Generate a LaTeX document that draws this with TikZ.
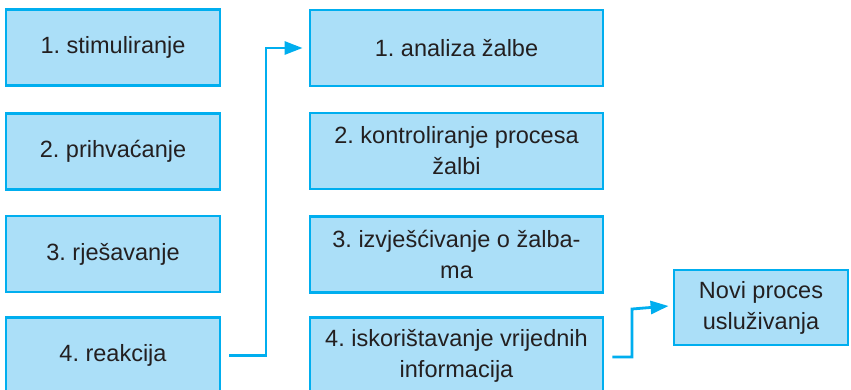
\documentclass[tikz,border=0pt]{standalone}
\usepackage{fontspec}
\setmainfont{Liberation Sans}
\usetikzlibrary{arrows.meta}
\definecolor{boxfill}{RGB}{171,223,248}
\definecolor{boxline}{RGB}{0,174,239}
\definecolor{txt}{RGB}{35,31,32}
\frenchspacing
\begin{document}
\begin{tikzpicture}[x=1pt,y=-1pt,
  box/.style={draw=boxline,fill=boxfill,line width=2.8pt,rectangle,inner sep=0pt,
    text=txt,font=\fontsize{23.5}{31}\selectfont,align=center},
  lbox/.style={box,minimum width=214pt,minimum height=76pt},
  mbox/.style={box,minimum width=293pt,minimum height=76pt},
  rbox/.style={box,minimum width=174pt,minimum height=75pt},
  conn/.style={draw=boxline,line width=2.8pt,-{Triangle[length=18pt,width=13pt]}}]
\clip (0,0) rectangle (851,389);
\node[lbox] (l1) at (113,47.5) {1. stimuliranje};
\node[lbox] (l2) at (113,151.5) {2. prihvaćanje};
\node[lbox] (l3) at (113,254) {3. rješavanje};
\node[lbox] (l4) at (113,355.5) {4. reakcija};
\node[mbox] (m1) at (456.5,48) {1. analiza žalbe};
\node[mbox] (m2) at (456.5,151) {2. kontroliranje procesa\\žalbi};
\node[mbox] (m3) at (456.5,254.5) {3. izvješćivanje o žalba-\\ma};
\node[mbox] (m4) at (456.5,355.5) {4. iskorištavanje vrijednih\\informacija};
\node[rbox] (r1) at (761,307.5) {Novi proces\\usluživanja};
\coordinate (a1s) at ([xshift=8pt]l4.east);
\coordinate (a1e) at ([xshift=-6pt]m1.west);
\draw[conn] (a1s) -| (266,48) -- (a1e);
\coordinate (a2s) at ([xshift=8pt,yshift=-1.5pt]m4.east);
\coordinate (a2e) at ([xshift=-4pt,yshift=1.5pt]r1.west);
\draw[conn] (a2s) -| (632,309) -- (a2e);
\end{tikzpicture}
\end{document}
